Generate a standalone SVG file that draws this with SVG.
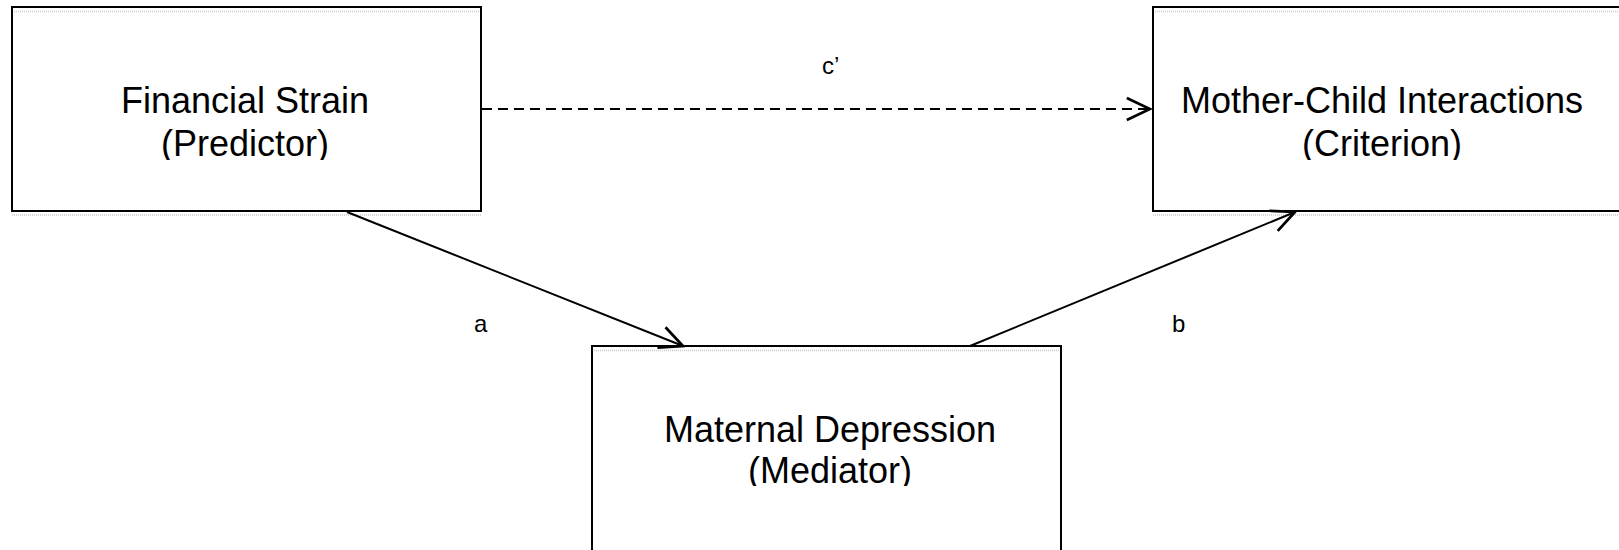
<svg xmlns="http://www.w3.org/2000/svg" width="1619" height="550" viewBox="0 0 1619 550">
<style>
.box{fill:#fff;stroke:#000;stroke-width:2}
.shade{stroke:#c8c8c8;stroke-width:1.5;stroke-dasharray:1 1}
.lbl{font-family:"Liberation Sans",Arial,sans-serif;font-size:36px;fill:#000;text-anchor:middle}
.edge{font-family:"Liberation Sans",Arial,sans-serif;font-size:24px;fill:#000}
.conn{stroke:#000;stroke-width:2;fill:none}
</style>
<defs>
<marker id="open" markerUnits="userSpaceOnUse" markerWidth="30" markerHeight="30" viewBox="-20 -10 22 20" refX="0" refY="0" orient="auto">
<path d="M-17,-8 L0,0 L-17,8" fill="none" stroke="#000" stroke-width="2"/>
</marker>
<clipPath id="c1"><rect x="0" y="0" width="1619" height="160"/></clipPath>
<clipPath id="c3"><rect x="0" y="340" width="1619" height="146"/></clipPath>
</defs>
<rect width="1619" height="550" fill="#fff"/>
<g id="predictor">
<rect class="box" x="12" y="7" width="469" height="204"/>
<line class="shade" x1="14" y1="11.5" x2="479" y2="11.5"/>
<line class="shade" x1="12" y1="215" x2="481" y2="215"/>
<g clip-path="url(#c1)">
<text class="lbl" x="245" y="113">Financial Strain</text>
<text class="lbl" x="245" y="156">(Predictor)</text>
</g>
</g>
<g id="criterion">
<rect class="box" x="1153" y="7" width="469" height="204"/>
<line class="shade" x1="1155" y1="11.5" x2="1619" y2="11.5"/>
<line class="shade" x1="1153" y1="215" x2="1619" y2="215"/>
<g clip-path="url(#c1)">
<text class="lbl" x="1382" y="113">Mother-Child Interactions</text>
<text class="lbl" x="1382" y="156">(Criterion)</text>
</g>
</g>
<g id="mediator">
<rect class="box" x="592" y="346" width="469" height="220"/>
<line class="shade" x1="594" y1="350.5" x2="1059" y2="350.5"/>
<g clip-path="url(#c3)">
<text class="lbl" x="830" y="442">Maternal Depression</text>
<text class="lbl" x="830" y="483">(Mediator)</text>
</g>
</g>
<g id="connectors">
<line class="conn" x1="482" y1="109" x2="1150" y2="109" stroke-dasharray="10 6" marker-end="url(#open)"/>
<line class="conn" x1="347" y1="212" x2="683" y2="346" marker-end="url(#open)"/>
<line class="conn" x1="970" y1="346" x2="1295" y2="212" marker-end="url(#open)"/>
<text class="edge" x="822" y="74">c’</text>
<text class="edge" x="474" y="332">a</text>
<text class="edge" x="1172" y="332">b</text>
</g>
</svg>
